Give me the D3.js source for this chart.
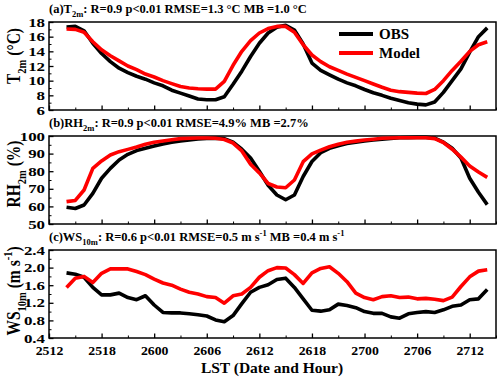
<!DOCTYPE html>
<html>
<head>
<meta charset="utf-8">
<script src="https://cdn.jsdelivr.net/npm/d3@7"></script>
<style>
  body { margin: 0; background: #fff; }
  svg { font-family: "Liberation Serif", "Times New Roman", serif; font-weight: bold; }
</style>
</head>
<body>
<div id="chart"></div>
<script>
// time stamps as DDHH (local standard time)
const times = ['2514','2515','2516','2517','2518','2519','2520','2521','2522','2523',
  '2600','2601','2602','2603','2604','2605','2606','2607','2608','2609','2610','2611',
  '2612','2613','2614','2615','2616','2617','2618','2619','2620','2621','2622','2623',
  '2700','2701','2702','2703','2704','2705','2706','2707','2708','2709','2710','2711',
  '2712','2713','2714'];

const obsT2 = [17.3,17.4,16.8,15.1,13.7,12.6,11.7,11.1,10.6,10.2,9.7,9.3,8.7,8.3,7.9,7.5,7.4,7.4,7.8,9.5,
  11.3,13.3,15.1,16.5,17.3,17.55,16.9,15.0,12.4,11.4,10.8,10.2,9.7,9.3,8.8,8.35,8.0,7.6,7.3,7.0,
  6.8,6.7,7.1,8.4,10.0,11.6,13.9,16.0,17.2];
const modT2 = [17.05,17.0,16.6,15.3,14.2,13.4,12.7,12.0,11.5,10.9,10.5,10.0,9.6,9.2,9.0,8.9,8.85,8.85,9.9,12.1,
  14.0,15.45,16.5,17.1,17.4,17.4,16.6,14.9,13.5,12.6,11.9,11.4,10.9,10.45,10.0,9.55,9.1,8.7,8.5,8.4,
  8.3,8.25,8.8,10.0,11.4,12.65,14.0,14.9,15.3];

const obsRH = [59.5,58.8,60.8,67.4,76,81.6,86.4,89.6,91.7,93,94.3,95.5,96.4,97.2,97.8,98.3,98.6,98.8,98.5,96.5,
  92.5,87.5,80,72,66.5,63.8,66.5,77,85.5,90.5,93,94.5,95.7,96.5,97.2,97.7,98.2,98.6,99,99.1,
  99.2,99.2,98.8,96.5,93,87.5,76,68,61];
const modRH = [62.7,63.4,69.3,81.6,85.8,89.2,91.1,92.4,93.7,95.3,96.4,97.2,97.9,98.5,98.7,98.9,98.9,98.7,98,96,
  91.5,84,79,73,71,70.6,75,85.4,89.8,92,93.9,95.3,96.4,97.1,97.7,98.2,98.7,98.9,99,99,
  99,99,98.5,96.3,92.5,88,83,79.5,76.5];

const obsWS = [1.88,1.85,1.78,1.55,1.38,1.38,1.42,1.32,1.27,1.36,1.15,0.98,0.97,0.97,0.95,0.93,0.9,0.81,0.77,0.91,
  1.18,1.44,1.55,1.61,1.73,1.76,1.55,1.29,1.03,1.01,1.04,1.17,1.14,1.09,1.0,0.96,0.96,0.88,0.85,0.95,
  0.98,1.0,0.98,1.04,1.12,1.15,1.27,1.29,1.5];
const modWS = [1.55,1.76,1.8,1.66,1.87,1.97,1.97,1.97,1.91,1.84,1.74,1.65,1.6,1.51,1.44,1.4,1.34,1.32,1.19,1.36,
  1.40,1.55,1.78,1.93,2.0,1.99,1.84,1.64,1.88,1.98,2.02,1.87,1.68,1.42,1.32,1.27,1.34,1.36,1.32,1.33,
  1.29,1.3,1.28,1.25,1.33,1.57,1.79,1.92,1.95];

const xTickLabels = ['2512','2518','2600','2606','2612','2618','2700','2706','2712'];
const xMinorLabels = ['2515','2521','2603','2609','2615','2621','2703','2709','2715'];

const tTicks = [6, 8, 10, 12, 14, 16, 18];
const rhTicks = [50, 60, 70, 80, 90, 100];
const wsTicks = [0.4, 0.8, 1.2, 1.6, 2.0, 2.4];

const titleA = [['(a)T'], ['2m', 'sub'], [': R=0.9 p<0.01 RMSE=1.3 °C MB =1.0 °C']];
const titleB = [['(b)RH'], ['2m', 'sub'], [': R=0.9 p<0.01 RMSE=4.9% MB =2.7%']];
const titleC = [['(c)WS'], ['10m', 'sub'], [': R=0.6 p<0.01 RMSE=0.5 m s'], ['-1', 'sup'], [' MB =0.4 m s'], ['-1', 'sup']];

const width = 500, height = 382;
const left = 49, right = 496;

// hours since 25 12:00
function toHour(s) {
  return (+s.slice(0, 2) - 25) * 24 + (+s.slice(2)) - 12;
}

const x = d3.scaleLinear().domain([0, 51]).range([left, right]);

const svg = d3.select('#chart').append('svg')
  .attr('width', width)
  .attr('height', height);

function richText(sel, parts, size) {
  let prev = 0;
  parts.forEach(p => {
    const shift = p[1] === 'sub' ? size * 0.3 : p[1] === 'sup' ? -size * 0.4 : 0;
    sel.append('tspan')
      .attr('dy', shift - prev)
      .attr('font-size', p[1] ? size * 0.68 : size)
      .text(p[0]);
    prev = shift;
  });
}

const panels = [
  { top: 22, domain: [6, 18], ticks: tTicks, fmt: d3.format('d'), obs: obsT2, mod: modT2, title: titleA,
    ylab: [['T'], ['2m', 'sub'], [' (°C)']], ylabY: 56 },
  { top: 136, domain: [50, 100], ticks: rhTicks, fmt: d3.format('d'), obs: obsRH, mod: modRH, title: titleB,
    ylab: [['RH'], ['2m', 'sub'], [' (%)']], ylabY: 174 },
  { top: 250, domain: [0.4, 2.4], ticks: wsTicks, fmt: d3.format('.1f'), obs: obsWS, mod: modWS, title: titleC,
    ylab: [['WS'], ['10m', 'sub'], [' (m s'], ['-1', 'sup'], [')']], ylabY: 291 }
];
const ph = 88;

panels.forEach((p, i) => {
  const y = d3.scaleLinear().domain(p.domain).range([p.top + ph, p.top]);
  const g = svg.append('g');

  // minor ticks halfway between majors
  const minors = p.ticks.slice(1).map((t, j) => (t + p.ticks[j]) / 2);

  // y axis
  g.append('g')
    .attr('transform', `translate(${left},0)`)
    .call(d3.axisLeft(y).tickValues(minors).tickSize(-2.5).tickFormat(''))
    .call(a => a.select('.domain').remove());
  const ya = g.append('g')
    .attr('transform', `translate(${left},0)`)
    .call(d3.axisLeft(y).tickValues(p.ticks).tickSize(-4.5).tickPadding(4).tickFormat(p.fmt));
  ya.select('.domain').remove();
  ya.selectAll('line').attr('stroke-width', 1.3);
  ya.selectAll('text')
    .attr('font-size', 13)
    .attr('font-family', '"Liberation Serif", serif')
    .attr('font-weight', 'bold')
    .attr('fill', '#000')
    .attr('transform', 'translate(-4,0) scale(1.3,1) translate(4,0)');

  // x axis ticks on every panel
  g.append('g')
    .attr('transform', `translate(0,${p.top + ph})`)
    .call(d3.axisBottom(x).tickValues(xMinorLabels.map(toHour)).tickSize(-2.5).tickFormat(''))
    .call(a => a.select('.domain').remove());
  const xa = g.append('g')
    .attr('transform', `translate(0,${p.top + ph})`)
    .call(d3.axisBottom(x).tickValues(xTickLabels.map(toHour)).tickSize(-4.5).tickPadding(6)
      .tickFormat((d, k) => i === 2 ? xTickLabels[k] : ''));
  xa.select('.domain').remove();
  xa.selectAll('line').attr('stroke-width', 1.3);
  xa.selectAll('text')
    .attr('font-size', 12)
    .attr('font-family', '"Liberation Serif", serif')
    .attr('font-weight', 'bold')
    .attr('fill', '#000')
    .attr('dy', '0.95em')
    .attr('transform', 'scale(1.15,1)');

  // frame
  g.append('rect')
    .attr('x', left).attr('y', p.top)
    .attr('width', right - left).attr('height', ph)
    .attr('fill', 'none').attr('stroke', '#000').attr('stroke-width', 1.5);

  const line = d3.line()
    .x((d, k) => x(toHour(times[k])))
    .y(d => y(d));

  g.append('path').datum(p.obs)
    .attr('d', line)
    .attr('fill', 'none').attr('stroke', '#000')
    .attr('stroke-width', 3.6).attr('stroke-linejoin', 'round');
  g.append('path').datum(p.mod)
    .attr('d', line)
    .attr('fill', 'none').attr('stroke', '#ff0000')
    .attr('stroke-width', 3.6).attr('stroke-linejoin', 'round');

  // panel title
  const t = g.append('text')
    .attr('x', left).attr('y', p.top - 9)
    .attr('font-size', 12.5);
  richText(t, p.title, 12.5);

  // y label
  const yl = g.append('text')
    .attr('text-anchor', 'middle')
    .attr('transform', `translate(20,${p.ylabY}) scale(1.25,1) rotate(-90)`);
  richText(yl, p.ylab, 15.5);
});

// legend
const legend = svg.append('g');
[['OBS', '#000', 34], ['Model', '#ff0000', 53]].forEach(l => {
  legend.append('line')
    .attr('x1', 339).attr('x2', 373)
    .attr('y1', l[2]).attr('y2', l[2])
    .attr('stroke', l[1]).attr('stroke-width', 4);
  legend.append('text')
    .attr('x', 379).attr('y', l[2] + 5)
    .attr('font-size', 15)
    .text(l[0]);
});

// x axis title
svg.append('text')
  .attr('x', 272).attr('y', 373)
  .attr('text-anchor', 'middle')
  .attr('font-size', 15.5)
  .text('LST (Date and Hour)');
</script>
</body>
</html>
